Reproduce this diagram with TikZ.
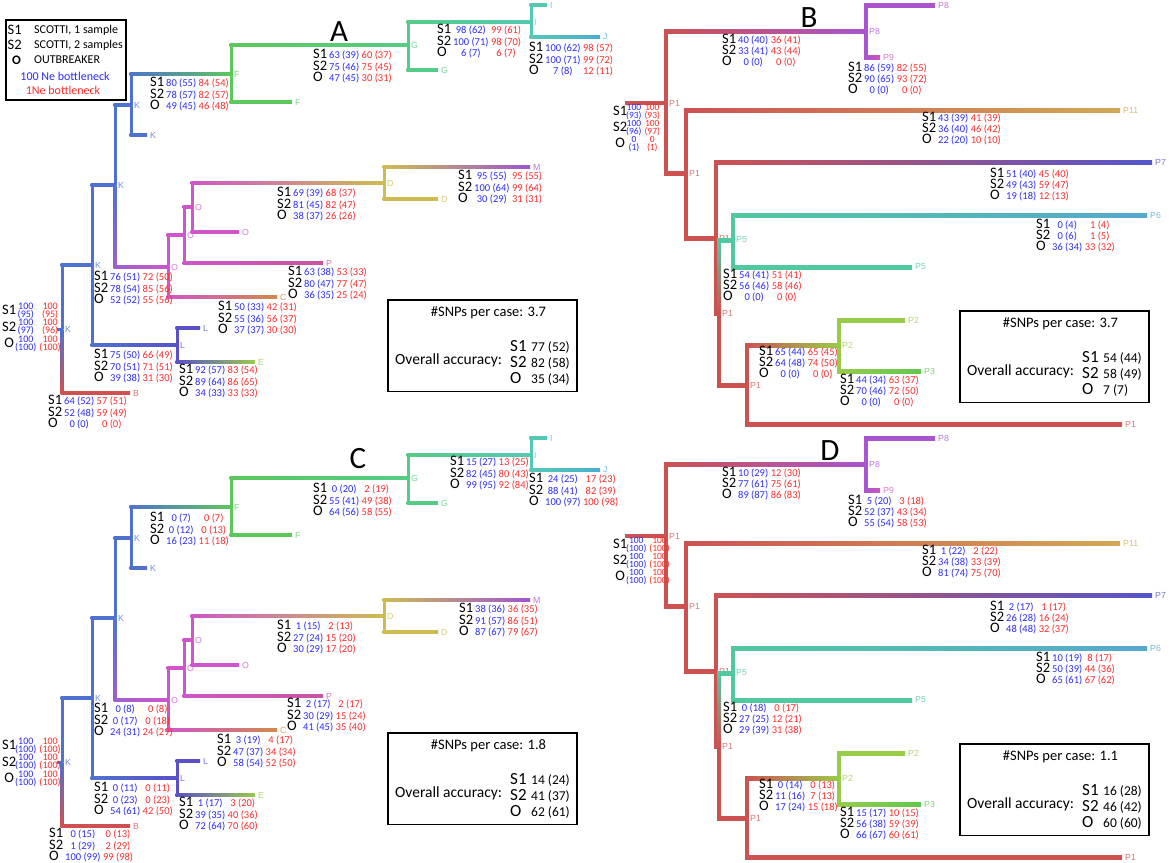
\documentclass[tikz,border=0pt]{standalone}
\usepackage{fontspec}
\setmainfont{Carlito}
\newfontfamily\lblfont{Liberation Sans}
\usetikzlibrary{calc}

\definecolor{cK}{HTML}{4F72CF}
\definecolor{cF}{HTML}{5CC85A}
\definecolor{cG}{HTML}{55CC85}
\definecolor{cI}{HTML}{55C8B5}
\definecolor{cJ}{HTML}{4AAFD0}
\definecolor{cO}{HTML}{CF55CC}
\definecolor{cD}{HTML}{CDBD50}
\definecolor{cM}{HTML}{A055D0}
\definecolor{cP}{HTML}{C8559F}
\definecolor{cC}{HTML}{D08A4A}
\definecolor{cL}{HTML}{5A50C8}
\definecolor{cE}{HTML}{98CA4A}
\definecolor{cB}{HTML}{CF5050}
\definecolor{cR}{HTML}{CC5252}
\definecolor{cP8}{HTML}{A855CF}
\definecolor{cP9}{HTML}{CC55B8}
\definecolor{cP11}{HTML}{D2A855}
\definecolor{cP7}{HTML}{5555CC}
\definecolor{cP6}{HTML}{55A8D0}
\definecolor{cP5}{HTML}{50C8A0}
\definecolor{cP2}{HTML}{98CC48}
\definecolor{cP3}{HTML}{60C850}
\definecolor{nb}{HTML}{2A2AFF}
\definecolor{nr}{HTML}{FF2A2A}

\tikzset{
  tlab/.style={anchor=west, inner sep=3pt, text=#1!80!white, font=\lblfont\fontsize{8.8}{9}\selectfont},
  stat/.style={anchor=base west, inner sep=0pt, font=\fontsize{10.5}{#1}\selectfont},
  stat/.default=11.5,
  rstat/.style={anchor=base west, inner sep=0pt, font=\fontsize{10}{8.25}\selectfont},
  ttl/.style={inner sep=0pt, font=\fontsize{31}{31}\selectfont},
  lg/.style={anchor=base west, inner sep=0pt, font=\fontsize{12}{12}\selectfont},
  accbox/.style={draw, line width=1.4pt, minimum width=189, minimum height=91.5, inner sep=0pt},
  boxt/.style={inner sep=0pt, font=\fontsize{14.5}{14.5}\selectfont},
  boxo/.style={anchor=base west, inner sep=0pt, font=\fontsize{15.5}{15.5}\selectfont},
  boxs/.style={anchor=base west, inner sep=0pt, font=\fontsize{17}{17}\selectfont},
  boxv/.style={anchor=base west, inner sep=0pt, font=\fontsize{13.5}{13.5}\selectfont},
}

% half branch width
\newcommand\hw{1.5}
% tree point with its label
\newcommand\nd[4]{\coordinate (#1) at (#2); \node[tlab=#3] (#1t) at (#1) {#4};}
% branch: vertical colour, then horizontal left/right colour
\newcommand\br[5]{%
  \fill[#3] ($(#1)+(-\hw,0)$) rectangle ($(#1 |- #2)+(\hw,0)$);
  \shade[left color=#4,right color=#5] ($(#1 |- #2)+(-\hw,-\hw)$) rectangle ($(#2)+(0,\hw)$);}
% same with shaded vertical (top, bottom)
\newcommand\brg[6]{%
  \shade[top color=#3,bottom color=#4] ($(#1)+(-\hw,0)$) rectangle ($(#1 |- #2)+(\hw,0)$);
  \shade[left color=#5,right color=#6] ($(#1 |- #2)+(-\hw,-\hw)$) rectangle ($(#2)+(0,\hw)$);}
\newcommand\stub[3]{\fill[#3] ($(#1)+(0,-\hw)$) rectangle ($(#2)+(0,\hw)$);}

% score blocks
\newcommand\lbl[1]{\smash{\fontsize{14.5}{14.5}\selectfont #1}}
\newcommand\sblk[6]{\begin{tabular}[t]{@{}l@{\hspace{2pt}}c@{\hspace{2.5pt}}c@{}}
\lbl{S1}&\textcolor{nb}{#1}&\textcolor{nr}{#2}\\
\lbl{S2}&\textcolor{nb}{#3}&\textcolor{nr}{#4}\\
\lbl{O}&\textcolor{nb}{#5}&\textcolor{nr}{#6}\end{tabular}}
\newcommand\rrow[5]{\raisebox{-5.5pt}[0pt][0pt]{\fontsize{14.5}{14.5}\selectfont #1}&\smash{\textcolor{nb}{#2}}&\smash{\textcolor{nr}{#4}}\\&\smash{\textcolor{nb}{#3}}&\smash{\textcolor{nr}{#5}}\\}

% accuracy box
\newcommand\acc[6]{%
\begin{scope}[shift={(#2)}]
  \node[accbox] (#1) at (94.5,45.75) {};
  \node[boxt] (#1-h) at (100.5,12.5) {\#SNPs per case: #3};
  \node[boxo] (#1-o) at (7,64.8) {Overall accuracy:};
  \node[boxs] (#1-a) at (122,51) {S1};
  \node[boxs] (#1-b) at (122,67) {S2};
  \node[boxs] (#1-c) at (122,83) {O};
  \node[boxv] (#1-va) at (143,51) {#4};
  \node[boxv] (#1-vb) at (143,67) {#5};
  \node[boxv] (#1-vc) at (143,83) {#6};
\end{scope}}

% trees of A and C
\newcommand\nodesAC[1]{%
  \nd{#1K0}{62,329}{cK}{K}
  \nd{#1K3}{92,265}{cK}{K}
  \nd{#1K2}{115,185}{cK}{K}
  \nd{#1K1}{131,105}{cK}{K}
  \nd{#1F}{231,74}{cF}{F}
  \nd{#1G}{408,45}{cG}{G}
  \nd{#1I}{531,22}{cI}{I}
  \nd{#1Oa}{168,267}{cO}{O}
  \nd{#1Ob}{184,235}{cO}{O}
  \nd{#1Oc}{192,207}{cO}{O}
  \nd{#1D}{384,183}{cD}{D}
  \nd{#1L}{177,345}{cL}{L}
  \nd{#1Kl}{147,135}{cK}{K}
  \nd{#1Fl}{292,102}{cF}{F}
  \nd{#1Gl}{438,70}{cG}{G}
  \nd{#1Il}{547,5}{cI}{I}
  \nd{#1Jl}{600,37}{cJ}{J}
  \nd{#1Cl}{277,297}{cC}{C}
  \nd{#1Pl}{323,263}{cP}{P}
  \nd{#1Ol}{239,232}{cO}{O}
  \nd{#1Ml}{530,167}{cM}{M}
  \nd{#1Dl}{438,199}{cD}{D}
  \nd{#1Ll}{200,328}{cL}{L}
  \nd{#1El}{255,362}{cE}{E}
  \nd{#1Bl}{130,393}{cB}{B}
  \coordinate (#1st) at (57,329);}
\newcommand\edgesAC[1]{%
  \stub{#1st}{#1K0}{cK}
  \br{#1K0}{#1K3}{cK}{cK}{cK}
  \brg{#1K0}{#1Bl}{cK}{cB}{cB}{cB}
  \br{#1K3}{#1K2}{cK}{cK}{cK}
  \br{#1K3}{#1L}{cK}{cK}{cL}
  \br{#1K2}{#1K1}{cK}{cK}{cK}
  \brg{#1K2}{#1Oa}{cK}{cK!40!cO}{cK!40!cO}{cO}
  \br{#1K1}{#1F}{cK}{cK}{cF}
  \br{#1K1}{#1Kl}{cK}{cK}{cK}
  \br{#1F}{#1G}{cF}{cF}{cG}
  \br{#1F}{#1Fl}{cF}{cF}{cF}
  \br{#1G}{#1I}{cG}{cG}{cI}
  \br{#1G}{#1Gl}{cG}{cG}{cG}
  \br{#1I}{#1Il}{cI}{cI}{cI}
  \br{#1I}{#1Jl}{cI}{cI}{cJ}
  \br{#1Oa}{#1Ob}{cO}{cO}{cO}
  \br{#1Oa}{#1Cl}{cO}{cO}{cC}
  \br{#1Ob}{#1Oc}{cO}{cO}{cO}
  \br{#1Ob}{#1Pl}{cO}{cO}{cP}
  \br{#1Oc}{#1D}{cO}{cO}{cD}
  \br{#1Oc}{#1Ol}{cO}{cO}{cO}
  \br{#1D}{#1Ml}{cD}{cD}{cM}
  \br{#1D}{#1Dl}{cD}{cD}{cD}
  \br{#1L}{#1Ll}{cL}{cL}{cL}
  \br{#1L}{#1El}{cL}{cL}{cE}}

% trees of B and D
\newcommand\nodesBD[1]{%
  \nd{#1R}{666,103}{cR}{P1}
  \nd{#1P8}{866,31}{cP8}{P8}
  \nd{#1Q1}{686,173}{cR}{P1}
  \nd{#1Q2}{716,238}{cR}{P1}
  \nd{#1Q3}{719,313}{cR}{P1}
  \nd{#1P5}{733,240}{cP5}{P5}
  \nd{#1Q4}{747,385}{cR}{P1}
  \nd{#1P2}{839,345}{cP2}{P2}
  \nd{#1P8l}{935,5}{cP8}{P8}
  \nd{#1P9l}{880,57}{cP9}{P9}
  \nd{#1P11l}{1120,110}{cP11}{P11}
  \nd{#1P7l}{1152,162}{cP7}{P7}
  \nd{#1P6l}{1147,215}{cP6}{P6}
  \nd{#1P5l}{912,267}{cP5}{P5}
  \nd{#1P2l}{905,320}{cP2}{P2}
  \nd{#1P3l}{921,371}{cP3}{P3}
  \nd{#1P1l}{1122,424}{cR}{P1}
  \coordinate (#1st) at (625,103);}
\newcommand\edgesBD[1]{%
  \stub{#1st}{#1R}{cR}
  \br{#1R}{#1P8}{cR}{cR}{cP8}
  \br{#1R}{#1Q1}{cR}{cR}{cR}
  \br{#1P8}{#1P8l}{cP8}{cP8}{cP8}
  \br{#1P8}{#1P9l}{cP8}{cP8}{cP9}
  \br{#1Q1}{#1P11l}{cR}{cR}{cP11}
  \br{#1Q1}{#1Q2}{cR}{cR}{cR}
  \br{#1Q2}{#1P7l}{cR}{cR}{cP7}
  \br{#1Q2}{#1Q3}{cR}{cR}{cR}
  \brg{#1Q3}{#1P5}{cP5}{cR}{cP5}{cP5}
  \br{#1Q3}{#1Q4}{cR}{cR}{cR}
  \br{#1P5}{#1P6l}{cP5}{cP5}{cP6}
  \br{#1P5}{#1P5l}{cP5}{cP5}{cP5}
  \br{#1Q4}{#1P2}{cR}{cR}{cP2}
  \br{#1Q4}{#1P1l}{cR}{cR}{cR}
  \br{#1P2}{#1P2l}{cP2}{cP2}{cP2}
  \br{#1P2}{#1P3l}{cP2}{cP2}{cP3}}

\begin{document}
\begin{tikzpicture}[x=1pt,y=-1pt]
\useasboundingbox (0,0) rectangle (1169,862);

%% A
\nodesAC{A-}
\edgesAC{A-}
\node[ttl] (A-title) at (339,32) {A};
\node[stat] (A-sF) at (150,86.7) {\sblk{80 (55)}{84 (54)}{78 (57)}{82 (57)}{49 (45)}{46 (48)}};
\node[stat] (A-sG) at (313,58.7) {\sblk{63 (39)}{60 (37)}{75 (46)}{75 (45)}{47 (45)}{30 (31)}};
\node[stat] (A-sI) at (437,33.7) {\sblk{98 (62)}{99 (61)}{100 (71)}{98 (70)}{6 (7)}{6 (7)}};
\node[stat] (A-sJ) at (529,51.7) {\sblk{100 (62)}{98 (57)}{100 (71)}{99 (72)}{7 (8)}{12 (11)}};
\node[stat] (A-sM) at (458,179.7) {\sblk{95 (55)}{95 (55)}{100 (64)}{99 (64)}{30 (29)}{31 (31)}};
\node[stat] (A-sD) at (277,196.7) {\sblk{69 (39)}{68 (37)}{81 (45)}{82 (47)}{38 (37)}{26 (26)}};
\node[stat] (A-sO) at (94,280.7) {\sblk{76 (51)}{72 (50)}{78 (54)}{85 (56)}{52 (52)}{55 (56)}};
\node[stat] (A-sP) at (288,275.7) {\sblk{63 (38)}{53 (33)}{80 (47)}{77 (47)}{36 (35)}{25 (24)}};
\node[stat] (A-sC) at (218,310.7) {\sblk{50 (33)}{42 (31)}{55 (36)}{56 (37)}{37 (37)}{30 (30)}};
\node[stat] (A-sL) at (94,358.7) {\sblk{75 (50)}{66 (49)}{70 (51)}{71 (51)}{39 (38)}{31 (30)}};
\node[stat] (A-sE) at (179,373.7) {\sblk{92 (57)}{83 (54)}{89 (64)}{86 (65)}{34 (33)}{33 (33)}};
\node[stat] (A-sB) at (48,404.7) {\sblk{64 (52)}{57 (51)}{52 (48)}{59 (49)}{0 (0)}{0 (0)}};
\node[rstat] (A-sR) at (2,309.2) {\begin{tabular}[t]{@{}c@{\hspace{-1pt}}c@{\hspace{3pt}}c@{}}
\rrow{S1}{100}{(95)}{100}{(95)}
\rrow{S2}{100}{(97)}{100}{(96)}
\rrow{O}{100}{(100)}{100}{(100)}
\end{tabular}};
\acc{A-box}{388,300}{3.7}{77 (52)}{82 (58)}{35 (34)}

% legend
\node[draw, line width=1.3pt, minimum width=120, minimum height=80, inner sep=0pt] (leg) at (66,60) {};
\node[lg, font=\fontsize{14.5}{14.5}\selectfont] (leg-s1) at (7.5,34.5) {S1};
\node[lg] (leg-t1) at (34,33.2) {SCOTTI, 1 sample};
\node[lg, font=\fontsize{14.5}{14.5}\selectfont] (leg-s2) at (7.5,49.5) {S2};
\node[lg] (leg-t2) at (34,48.2) {SCOTTI, 2 samples};
\node[lg, font=\fontsize{13}{13}\bfseries] (leg-o) at (12,64.3) {O};
\node[lg] (leg-t3) at (34,63.9) {OUTBREAKER};
\node[lg, anchor=base, text=nb] (leg-b) at (65,80.6) {100 Ne bottleneck};
\node[lg, anchor=base, text=nr] (leg-r) at (63,94.6) {1Ne bottleneck};

%% C
\begin{scope}[shift={(0,433)}]
\nodesAC{C-}
\end{scope}
\edgesAC{C-}
\node[ttl] (C-title) at (358,459) {C};
\node[stat] (C-sF) at (150,521.7) {\sblk{0 (7)}{0 (7)}{0 (12)}{0 (13)}{16 (23)}{11 (18)}};
\node[stat] (C-sG) at (313,492.7) {\sblk{0 (20)}{2 (19)}{55 (41)}{49 (38)}{64 (56)}{58 (55)}};
\node[stat] (C-sI) at (450,465.7) {\sblk{15 (27)}{13 (25)}{82 (45)}{80 (43)}{99 (95)}{92 (84)}};
\node[stat] (C-sJ) at (529,482.7) {\sblk{24 (25)}{17 (23)}{88 (41)}{82 (39)}{100 (97)}{100 (98)}};
\node[stat] (C-sM) at (459,612.7) {\sblk{38 (36)}{36 (35)}{91 (57)}{86 (51)}{87 (67)}{79 (67)}};
\node[stat] (C-sD) at (277,629.7) {\sblk{1 (15)}{2 (13)}{27 (24)}{15 (20)}{30 (29)}{17 (20)}};
\node[stat] (C-sO) at (94,712.7) {\sblk{0 (8)}{0 (8)}{0 (17)}{0 (18)}{24 (31)}{24 (29)}};
\node[stat] (C-sP) at (287,707.7) {\sblk{2 (17)}{2 (17)}{30 (29)}{15 (24)}{41 (45)}{35 (40)}};
\node[stat] (C-sC) at (217,743.7) {\sblk{3 (19)}{4 (17)}{47 (37)}{34 (34)}{58 (54)}{52 (50)}};
\node[stat] (C-sL) at (94,791.7) {\sblk{0 (11)}{0 (11)}{0 (23)}{0 (23)}{54 (61)}{42 (50)}};
\node[stat] (C-sE) at (179,806.7) {\sblk{1 (17)}{3 (20)}{39 (35)}{40 (36)}{72 (64)}{70 (60)}};
\node[stat] (C-sB) at (49,837.7) {\sblk{0 (15)}{0 (13)}{1 (29)}{2 (29)}{100 (99)}{99 (98)}};
\node[rstat] (C-sR) at (2,744.2) {\begin{tabular}[t]{@{}c@{\hspace{-1pt}}c@{\hspace{3pt}}c@{}}
\rrow{S1}{100}{(100)}{100}{(100)}
\rrow{S2}{100}{(100)}{100}{(100)}
\rrow{O}{100}{(100)}{100}{(100)}
\end{tabular}};
\acc{C-box}{388,733}{1.8}{14 (24)}{41 (37)}{62 (61)}

%% B
\renewcommand\hw{2}
\nodesBD{B-}
\edgesBD{B-}
\node[ttl] (B-title) at (809,18) {B};
\node[stat=11] (B-s8) at (722,43.7) {\sblk{40 (40)}{36 (41)}{33 (41)}{43 (44)}{0 (0)}{0 (0)}};
\node[stat=11] (B-s9) at (848,71.7) {\sblk{86 (59)}{82 (55)}{90 (65)}{93 (72)}{0 (0)}{0 (0)}};
\node[stat=11] (B-s11) at (922,121.7) {\sblk{43 (39)}{41 (39)}{36 (40)}{46 (42)}{22 (20)}{10 (10)}};
\node[stat=11] (B-s7) at (990,177.7) {\sblk{51 (40)}{45 (40)}{49 (43)}{59 (47)}{19 (18)}{12 (13)}};
\node[stat=11] (B-s6) at (1036,228.7) {\sblk{0 (4)}{1 (4)}{0 (6)}{1 (5)}{36 (34)}{33 (32)}};
\node[stat=11] (B-s5) at (723,278.7) {\sblk{54 (41)}{51 (41)}{56 (46)}{58 (46)}{0 (0)}{0 (0)}};
\node[stat=11] (B-s2) at (759,355.7) {\sblk{65 (44)}{65 (45)}{64 (48)}{74 (50)}{0 (0)}{0 (0)}};
\node[stat=11] (B-s3) at (840,383.7) {\sblk{44 (34)}{63 (37)}{70 (46)}{72 (50)}{0 (0)}{0 (0)}};
\node[rstat, font=\fontsize{9.5}{8.1}\selectfont] (B-sR) at (613,110) {\begin{tabular}[t]{@{}c@{\hspace{-1pt}}c@{\hspace{3pt}}c@{}}
\rrow{S1}{100}{(93)}{100}{(93)}
\rrow{S2}{100}{(96)}{100}{(97)}
\rrow{O}{0}{(1)}{0}{(1)}
\end{tabular}};
\acc{B-box}{960,311}{3.7}{54 (44)}{58 (49)}{7 (7)}

%% D
\begin{scope}[shift={(0,433)}]
\nodesBD{D-}
\end{scope}
\edgesBD{D-}
\node[ttl] (D-title) at (830,451) {D};
\node[stat=11] (D-s8) at (722,476.7) {\sblk{10 (29)}{12 (30)}{77 (61)}{75 (61)}{89 (87)}{86 (83)}};
\node[stat=11] (D-s9) at (848,504.7) {\sblk{5 (20)}{3 (18)}{52 (37)}{43 (34)}{55 (54)}{58 (53)}};
\node[stat=11] (D-s11) at (922,554.7) {\sblk{1 (22)}{2 (22)}{34 (38)}{33 (39)}{81 (74)}{75 (70)}};
\node[stat=11] (D-s7) at (990,610.7) {\sblk{2 (17)}{1 (17)}{26 (28)}{16 (24)}{48 (48)}{32 (37)}};
\node[stat=11] (D-s6) at (1036,661.7) {\sblk{10 (19)}{8 (17)}{50 (39)}{44 (36)}{65 (61)}{67 (62)}};
\node[stat=11] (D-s5) at (723,711.7) {\sblk{0 (18)}{0 (17)}{27 (25)}{12 (21)}{29 (39)}{31 (38)}};
\node[stat=11] (D-s2) at (759,788.7) {\sblk{0 (14)}{0 (13)}{11 (16)}{7 (13)}{17 (24)}{15 (18)}};
\node[stat=11] (D-s3) at (840,816.7) {\sblk{15 (17)}{10 (15)}{56 (38)}{59 (39)}{66 (67)}{60 (61)}};
\node[rstat, font=\fontsize{9.5}{8.1}\selectfont] (D-sR) at (613,543) {\begin{tabular}[t]{@{}c@{\hspace{-1pt}}c@{\hspace{3pt}}c@{}}
\rrow{S1}{100}{(100)}{100}{(100)}
\rrow{S2}{100}{(100)}{100}{(100)}
\rrow{O}{100}{(100)}{100}{(100)}
\end{tabular}};
\acc{D-box}{960,744}{1.1}{16 (28)}{46 (42)}{60 (60)}
\end{tikzpicture}
\end{document}
